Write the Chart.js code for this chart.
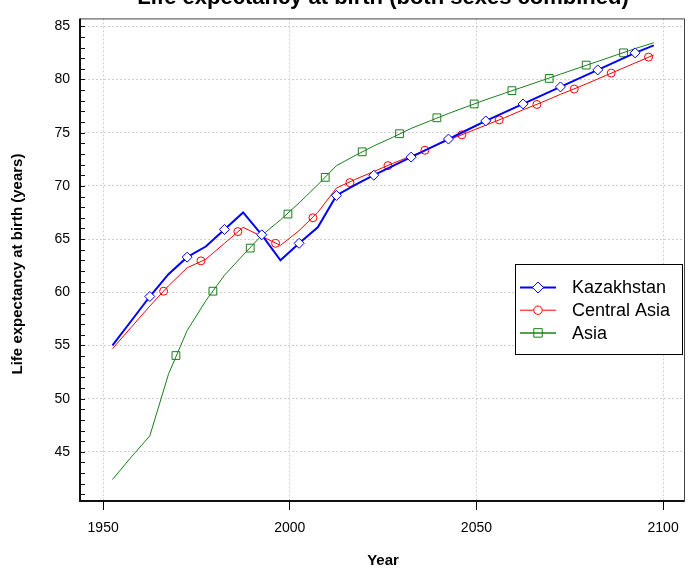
<!DOCTYPE html>
<html>
<head>
<meta charset="utf-8">
<script src="https://cdn.jsdelivr.net/npm/chart.js@4.4.0/dist/chart.umd.min.js"></script>
<style>
  html, body { margin: 0; padding: 0; background: #fff; }
  #wrap { position: relative; width: 697px; height: 572px; }
  canvas { display: block; }
</style>
</head>
<body>
<div id="wrap"><canvas id="lifeChart" width="697" height="572"></canvas></div>
<script>
// period mid-points (1950-1955 -> 1952.5, ...)
const years = [1952.5, 1957.5, 1962.5, 1967.5, 1972.5, 1977.5, 1982.5, 1987.5, 1992.5, 1997.5,
  2002.5, 2007.5, 2012.5, 2017.5, 2022.5, 2027.5, 2032.5, 2037.5, 2042.5, 2047.5,
  2052.5, 2057.5, 2062.5, 2067.5, 2072.5, 2077.5, 2082.5, 2087.5, 2092.5, 2097.5];

const kazakhstan = [55.0, 57.3, 59.6, 61.7, 63.3, 64.3, 65.9, 67.5, 65.4, 63.0,
  64.6, 66.1, 69.1, 70.1, 71.0, 71.85, 72.7, 73.55, 74.4, 75.25,
  76.1, 76.9, 77.7, 78.5, 79.3, 80.1, 80.9, 81.7, 82.5, 83.2];

const centralAsia = [54.7, 56.7, 58.7, 60.6, 62.3, 63.1, 64.6, 66.1, 65.25, 64.4,
  65.8, 67.5, 69.8, 70.6, 71.35, 72.1, 72.8, 73.55, 74.3, 75.0,
  75.7, 76.4, 77.15, 77.85, 78.6, 79.3, 80.05, 80.8, 81.55, 82.3];

const asia = [42.4, 44.5, 46.5, 52.3, 56.4, 59.2, 61.6, 63.5, 65.35, 66.8,
  68.4, 70.1, 71.9, 72.85, 73.75, 74.55, 75.4, 76.1, 76.8, 77.45,
  78.1, 78.7, 79.3, 79.9, 80.5, 81.1, 81.7, 82.3, 82.9, 83.45];

// symbol positions along the thinner lines
const centralAsiaMarkYears = [1966.2, 1976.2, 1986.1, 1996.2, 2006.2, 2016.1, 2026.3,
  2036.2, 2046.1, 2056.1, 2066.2, 2076.2, 2086.1, 2096.1];
const centralAsiaMarks = [60.1, 62.95, 65.7, 64.6, 67.0, 70.3, 71.9,
  73.35, 74.8, 76.2, 77.65, 79.1, 80.6, 82.1];

const asiaMarkYears = [1969.5, 1979.4, 1989.4, 1999.5, 2009.5, 2019.4, 2029.4,
  2039.4, 2049.4, 2059.5, 2069.5, 2079.4, 2089.4];
const asiaMarks = [54.05, 60.1, 64.15, 67.35, 70.8, 73.2, 74.9,
  76.4, 77.7, 78.95, 80.1, 81.35, 82.5];

const xTicks = [1950, 2000, 2050, 2100];
const yTicks = [45, 50, 55, 60, 65, 70, 75, 80, 85];

const FONT = '"Liberation Sans", Arial, sans-serif';
const BLUE = "#0000ff", RED = "#ff0000", GREEN = "#1a7f1a";

const pts = (xs, ys) => xs.map((x, i) => ({ x, y: ys[i] }));

const decorations = {
  id: "decorations",
  afterDraw(chart) {
    const { ctx, chartArea: a, scales: { y } } = chart;
    ctx.save();

    // frame
    ctx.strokeStyle = "#444";
    ctx.lineWidth = 1;
    ctx.strokeRect(a.left + 0.5, a.top + 0.5, a.right - a.left, a.bottom - a.top);
    ctx.strokeStyle = "#111";
    ctx.lineWidth = 2;
    ctx.beginPath();
    ctx.moveTo(a.left, a.top);
    ctx.lineTo(a.left, a.bottom);
    ctx.lineTo(a.right, a.bottom);
    ctx.stroke();

    // inner ticks on y, one per unit
    ctx.lineWidth = 1;
    ctx.beginPath();
    for (let v = Math.ceil(y.min); v <= y.max; v++) {
      const py = Math.round(y.getPixelForValue(v)) + 0.5;
      ctx.moveTo(a.left, py);
      ctx.lineTo(a.left + 5, py);
    }
    ctx.stroke();

    // titles
    ctx.fillStyle = "#000";
    ctx.textAlign = "center";
    ctx.font = "bold 22px " + FONT;
    ctx.textBaseline = "alphabetic";
    ctx.fillText("Life expectancy at birth (both sexes combined)", 383, 4);

    ctx.font = "bold 15px " + FONT;
    ctx.textBaseline = "middle";
    ctx.fillText("Year", 383, 561);
    ctx.save();
    ctx.translate(18, 264);
    ctx.rotate(-Math.PI / 2);
    ctx.fillText("Life expectancy at birth (years)", 0, 0);
    ctx.restore();

    // legend
    const lx = 515, ly = 264, lw = 167, lh = 90;
    ctx.fillStyle = "#fff";
    ctx.fillRect(lx, ly, lw, lh);
    ctx.strokeStyle = "#000";
    ctx.lineWidth = 1;
    ctx.strokeRect(lx + 0.5, ly + 0.5, lw, lh);
    const items = [
      { text: "Kazakhstan", color: BLUE, width: 2, style: "rectRot", r: 5.5 },
      { text: "Central Asia", color: RED, width: 1, style: "circle", r: 4.2 },
      { text: "Asia", color: GREEN, width: 1.5, style: "rect", r: 6 }
    ];
    items.forEach((it, i) => {
      const cy = 287.5 + i * 22.7;
      ctx.strokeStyle = it.color;
      ctx.lineWidth = it.width;
      ctx.beginPath();
      ctx.moveTo(520, cy);
      ctx.lineTo(556, cy);
      ctx.stroke();
      ctx.lineWidth = 1;
      ctx.fillStyle = it.style === "rect" ? "rgba(0,0,0,0)" : "#fff";
      Chart.helpers.drawPoint(ctx, { pointStyle: it.style, radius: it.r, borderWidth: 1 }, 538, cy);
      ctx.fillStyle = "#000";
      ctx.font = "18px " + FONT;
      ctx.textAlign = "left";
      ctx.textBaseline = "middle";
      ctx.fillText(it.text, 572, cy + 1);
    });
    ctx.restore();
  }
};

new Chart(document.getElementById("lifeChart"), {
  type: "line",
  data: {
    datasets: [
      {
        label: "Kazakhstan",
        data: pts(years, kazakhstan),
        borderColor: BLUE,
        backgroundColor: "#fff",
        borderWidth: 2,
        pointStyle: "rectRot",
        pointRadius: ctx => (ctx.dataIndex >= 2 && ctx.dataIndex % 2 === 0 ? 5 : 0),
        pointBorderWidth: 1,
        tension: 0
      },
      {
        label: "Central Asia",
        data: pts(years, centralAsia),
        borderColor: RED,
        borderWidth: 1,
        pointRadius: 0,
        tension: 0
      },
      {
        label: "Central Asia symbols",
        data: pts(centralAsiaMarkYears, centralAsiaMarks),
        showLine: false,
        borderColor: RED,
        backgroundColor: "#fff",
        pointStyle: "circle",
        pointRadius: 4,
        pointBorderWidth: 1
      },
      {
        label: "Asia",
        data: pts(years, asia),
        borderColor: GREEN,
        borderWidth: 1,
        pointRadius: 0,
        tension: 0
      },
      {
        label: "Asia symbols",
        data: pts(asiaMarkYears, asiaMarks),
        showLine: false,
        borderColor: GREEN,
        backgroundColor: "rgba(0,0,0,0)",
        pointStyle: "rect",
        pointRadius: 5.5,
        pointBorderWidth: 1
      }
    ]
  },
  options: {
    responsive: false,
    animation: false,
    layout: { padding: { left: 0, right: 13, top: 10, bottom: 0 } },
    plugins: {
      legend: { display: false },
      tooltip: { enabled: false }
    },
    scales: {
      x: {
        type: "linear",
        min: 1943.8,
        max: 2105.6,
        afterBuildTicks: s => { s.ticks = xTicks.map(v => ({ value: v })); },
        afterFit: s => { s.height = 71; },
        border: { display: false, dash: [2, 2] },
        grid: {
          color: "#cfcfcf",
          drawTicks: true,
          tickLength: 9,
          tickColor: "#000",
          tickWidth: 1,
          tickBorderDash: []
        },
        ticks: {
          color: "#000",
          font: { family: FONT, size: 14 },
          padding: 10,
          maxRotation: 0,
          callback: v => String(v)
        }
      },
      y: {
        min: 40.38,
        max: 85.74,
        afterBuildTicks: s => { s.ticks = yTicks.map(v => ({ value: v })); },
        afterFit: s => { s.width = 80; },
        border: { display: false, dash: [2, 2] },
        grid: {
          color: "#cfcfcf",
          drawTicks: false
        },
        ticks: {
          color: "#000",
          font: { family: FONT, size: 14 },
          padding: 10,
          callback: v => String(v)
        }
      }
    }
  },
  plugins: [decorations]
});
</script>
</body>
</html>
